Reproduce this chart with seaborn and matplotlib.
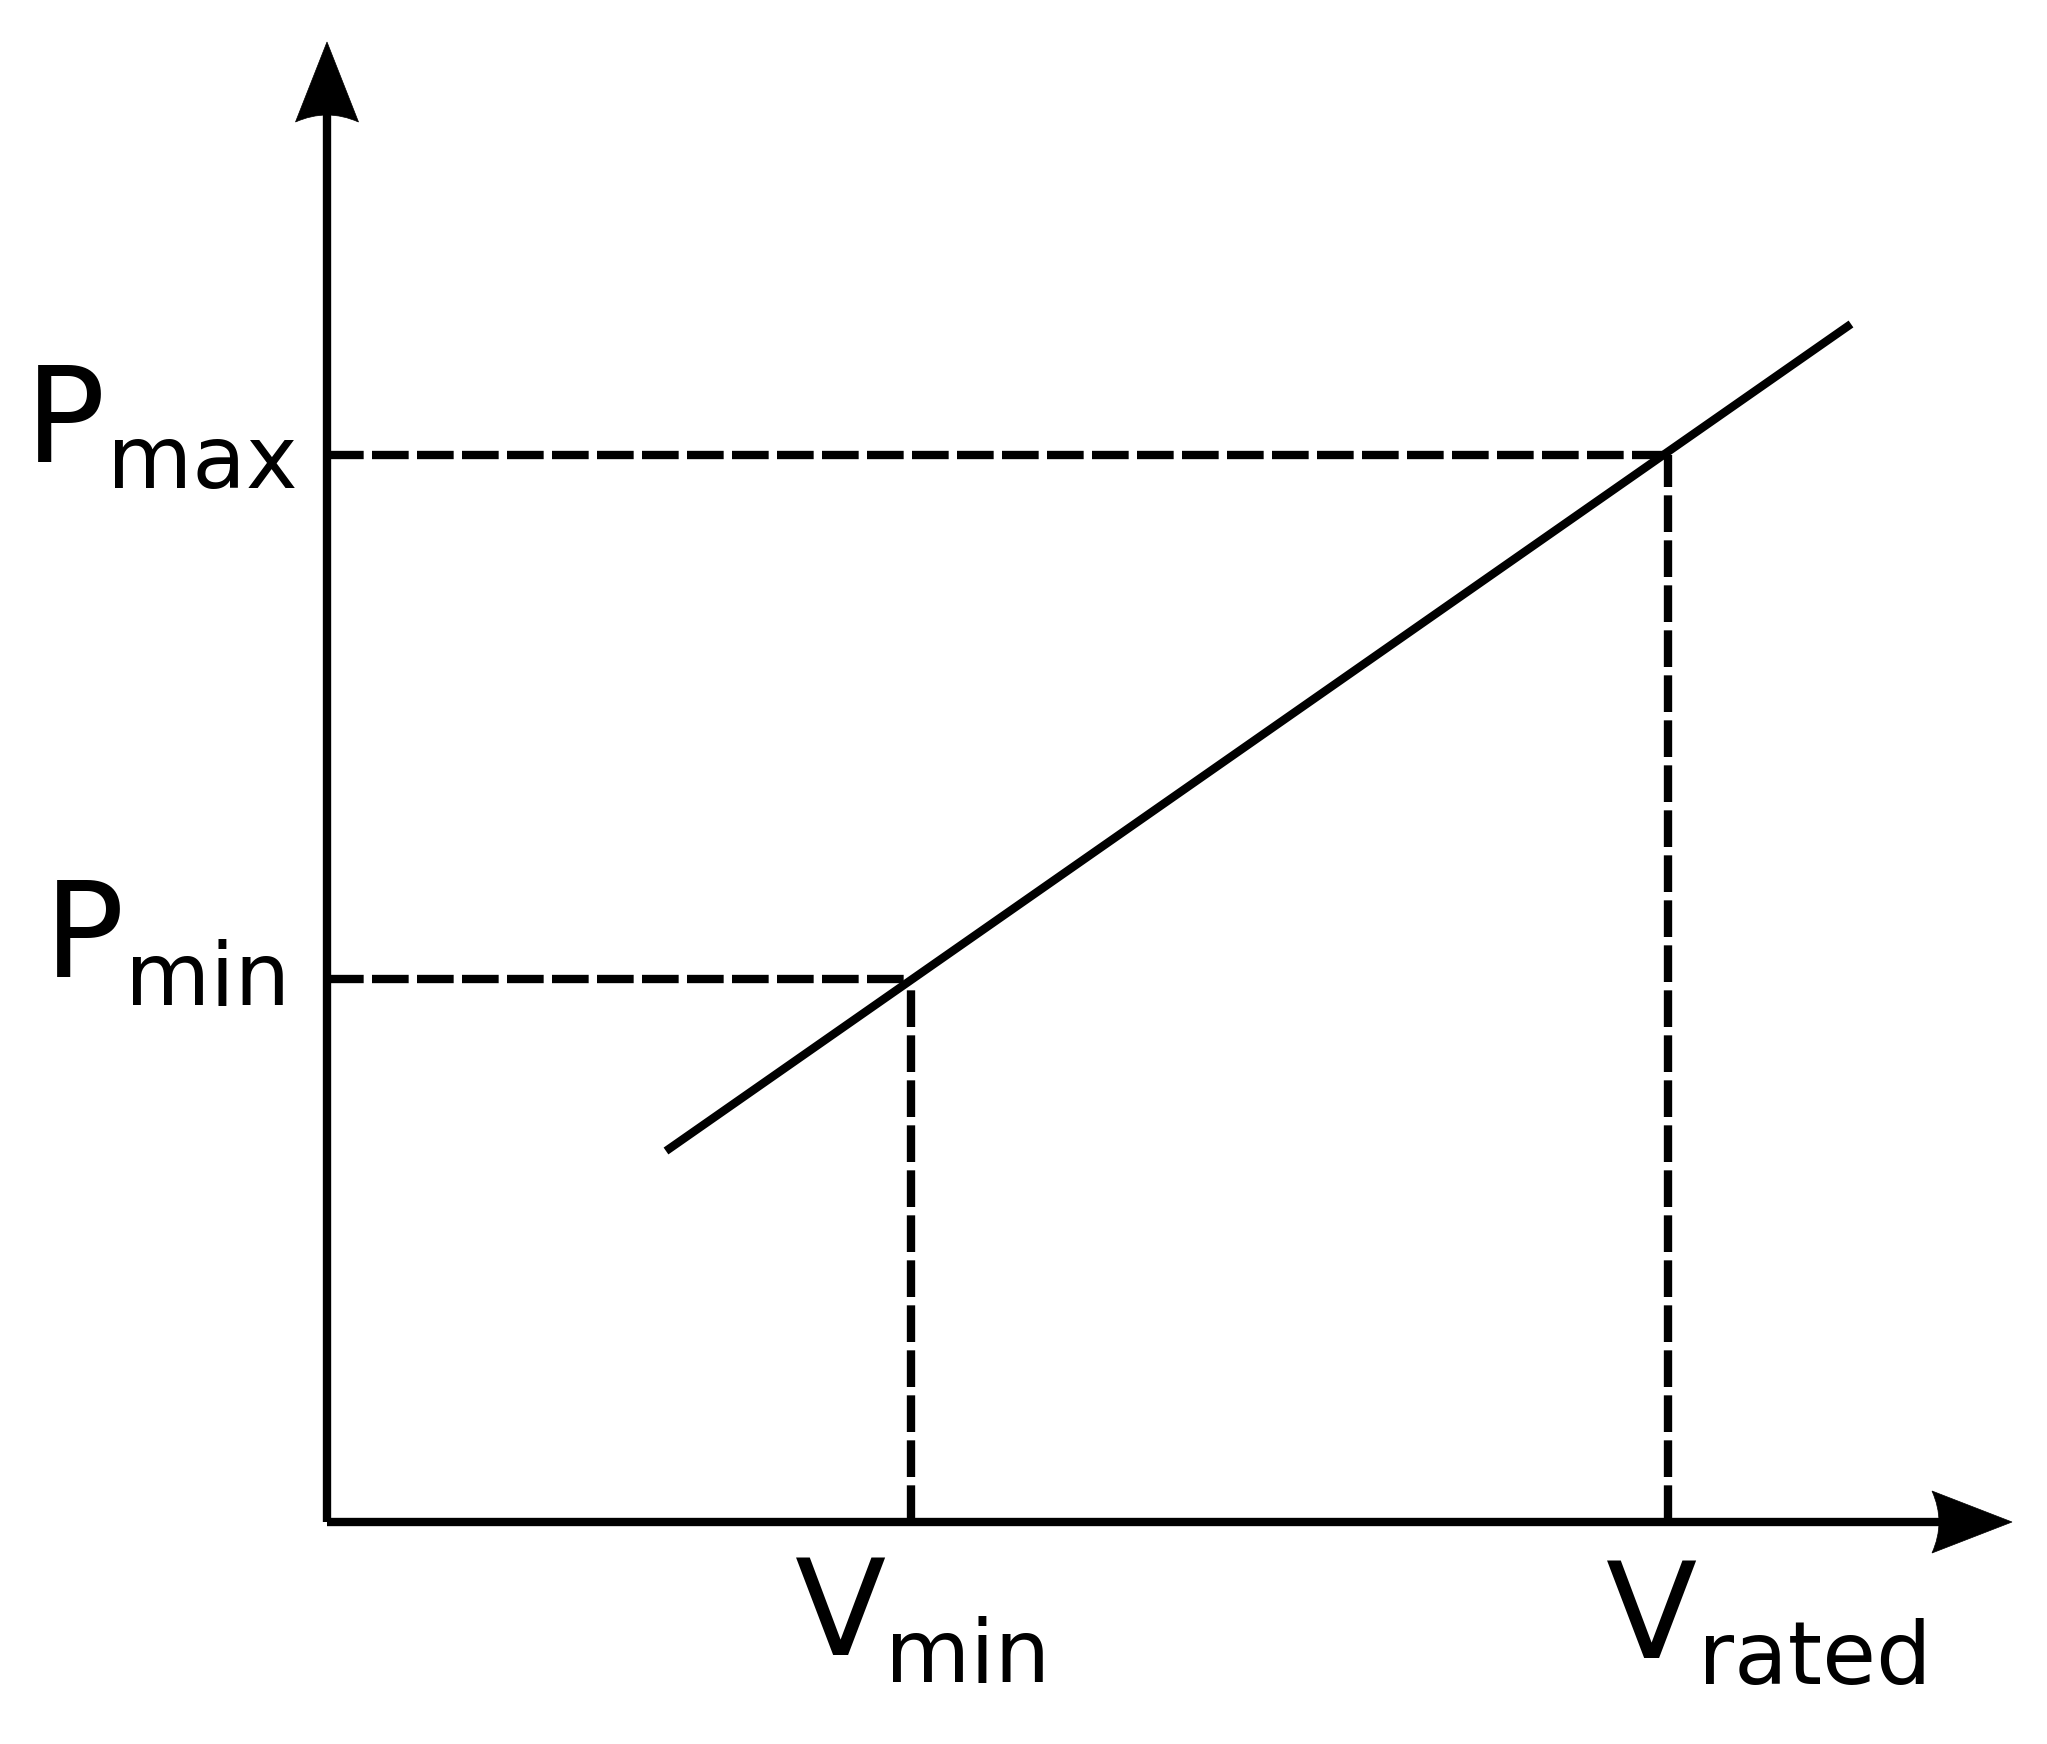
import matplotlib
matplotlib.use("Agg")
import matplotlib.pyplot as plt
import seaborn as sns
import pandas as pd
from matplotlib.path import Path
from matplotlib.patches import PathPatch

sns.set_style("white")
plt.rcParams['font.family'] = ['DejaVu Sans']

# schematic values (arbitrary units, origin at the axes corner)
v_min = 5.84
v_rated = 13.41
p_min = 5.43
p_max = 10.67

# the power line, end to end
line_v = [3.39, 15.24]
line_p = [3.71, 11.98]

x_axis_end = 16.85
y_axis_end = 14.80

# labels: main letter + subscript
label_main = ["P", "P", "V", "V"]
label_sub = ["max", "min", "min", "rated"]
main_xy = [(-3.02, 10.60), (-2.83, 5.45), (4.68, -1.33), (12.79, -1.36)]
sub_xy = [(-2.20, 10.34), (-2.02, 5.17), (5.58, -1.60), (13.71, -1.62)]

fig = plt.figure(figsize=(20.47, 17.44), dpi=100)
ax = fig.add_axes([0, 0, 1, 1])

lw = 6.0
dash = (0, (4.4, 1.0))

# axes
ax.plot([0, x_axis_end - 0.3], [0, 0], color="black", lw=lw, solid_capstyle="butt")
ax.plot([0, 0], [0, y_axis_end - 0.3], color="black", lw=lw, solid_capstyle="butt")


def stealth(tip, back, half, concave, vertical):
    # arrowhead with a slightly hollow back
    if vertical:
        verts = [(0, tip), (-half, back), (0, back + concave), (half, back), (0, tip)]
    else:
        verts = [(tip, 0), (back, half), (back + concave, 0), (back, -half), (tip, 0)]
    codes = [Path.MOVETO, Path.LINETO, Path.CURVE3, Path.CURVE3, Path.CLOSEPOLY]
    ax.add_patch(PathPatch(Path(verts, codes), facecolor="black", edgecolor="black", lw=0.5))


stealth(y_axis_end, y_axis_end - 0.80, 0.315, 0.14, True)
stealth(x_axis_end, x_axis_end - 0.80, 0.31, 0.14, False)

# guide lines, drawn out from the axes
ax.plot([0, v_rated], [p_max, p_max], color="black", lw=lw, linestyle=dash, dash_capstyle="butt")
ax.plot([v_rated, v_rated], [0, p_max], color="black", lw=lw, linestyle=dash, dash_capstyle="butt")
ax.plot([0, v_min], [p_min, p_min], color="black", lw=lw, linestyle=dash, dash_capstyle="butt")
ax.plot([v_min, v_min], [0, p_min], color="black", lw=lw, linestyle=dash, dash_capstyle="butt")

df = pd.DataFrame({"v": line_v, "p": line_p})
sns.lineplot(data=df, x="v", y="p", color="black", lw=lw, ax=ax, solid_capstyle="butt")
ax.set_xlim(-3.27, 17.20)
ax.set_ylim(-2.22, 15.22)
ax.axis("off")

for m, s, (mx, my), (sx, sy) in zip(label_main, label_sub, main_xy, sub_xy):
    ax.text(mx, my, m, fontsize=96, color="black", ha="left", va="baseline")
    ax.text(sx, sy, s, fontsize=63, color="black", ha="left", va="baseline")

fig.savefig("out.png", dpi=100, facecolor="white")
